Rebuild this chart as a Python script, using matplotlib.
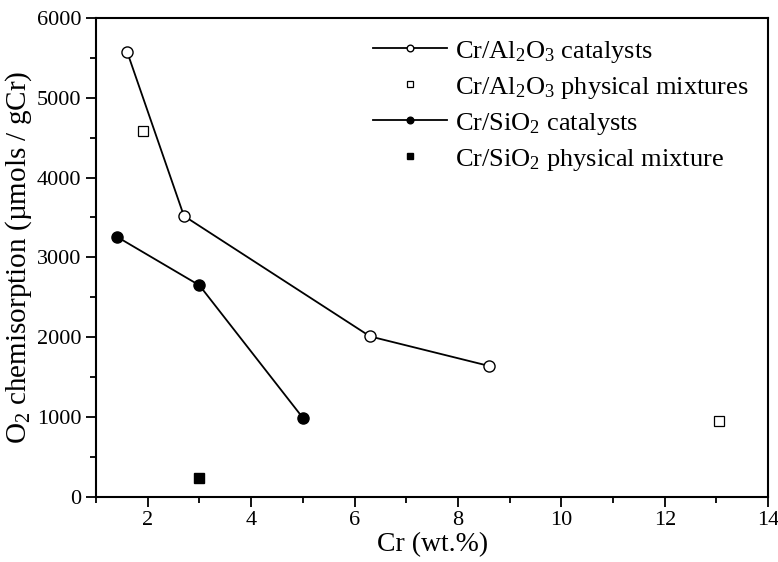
import matplotlib
matplotlib.use('Agg')
import matplotlib.pyplot as plt
from matplotlib.ticker import MultipleLocator

plt.rcParams['font.family'] = 'Liberation Serif'
plt.rcParams['mathtext.fontset'] = 'custom'
plt.rcParams['mathtext.rm'] = 'Liberation Serif'
plt.rcParams['mathtext.it'] = 'Liberation Serif:italic'

# O2 chemisorption vs Cr loading
al_cat_x = [1.6, 2.7, 6.3, 8.6]
al_cat_y = [5580, 3520, 2010, 1640]
al_mix_x = [1.9, 13.05]
al_mix_y = [4590, 950]
si_cat_x = [1.4, 3.0, 5.0]
si_cat_y = [3260, 2650, 990]
si_mix_x = [3.0]
si_mix_y = [240]

fig = plt.figure(figsize=(7.78, 5.62), dpi=100)
ax = fig.add_axes([0.1234, 0.116, 0.864, 0.852])

ax.plot(al_cat_x, al_cat_y, '-o', color='black', mfc='white', mec='black',
        ms=8, lw=1.3, label=r'Cr/Al$_2$O$_3$ catalysts')
ax.plot(al_mix_x, al_mix_y, 's', ls='none', color='black', mfc='white',
        mec='black', ms=7, mew=0.9, label=r'Cr/Al$_2$O$_3$ physical mixtures')
ax.plot(si_cat_x, si_cat_y, '-o', color='black', ms=8, lw=1.3,
        label=r'Cr/SiO$_2$ catalysts')
ax.plot(si_mix_x, si_mix_y, 's', ls='none', color='black', ms=7,
        label=r'Cr/SiO$_2$ physical mixture')

ax.set_xlim(1, 14)
ax.set_ylim(0, 6000)
ax.xaxis.set_major_locator(MultipleLocator(2))
ax.xaxis.set_minor_locator(MultipleLocator(1))
ax.yaxis.set_major_locator(MultipleLocator(1000))
ax.yaxis.set_minor_locator(MultipleLocator(500))
ax.tick_params(which='both', direction='out', width=1.3, labelsize=16)
ax.tick_params(which='major', length=7)
ax.tick_params(which='minor', length=4)
for s in ax.spines.values():
    s.set_linewidth(1.5)

ax.set_xlabel('Cr (wt.%)', fontsize=20, labelpad=1)
ax.set_ylabel(r'O$_2$ chemisorption (µmols / gCr)', fontsize=21, labelpad=2)

ax.legend(loc='upper right', frameon=False, fontsize=19, markerscale=0.6,
          handlelength=2.8, handletextpad=0.3, labelspacing=0.38,
          borderaxespad=0.2, bbox_to_anchor=(0.995, 0.99))

fig.savefig('out.png', dpi=100)
